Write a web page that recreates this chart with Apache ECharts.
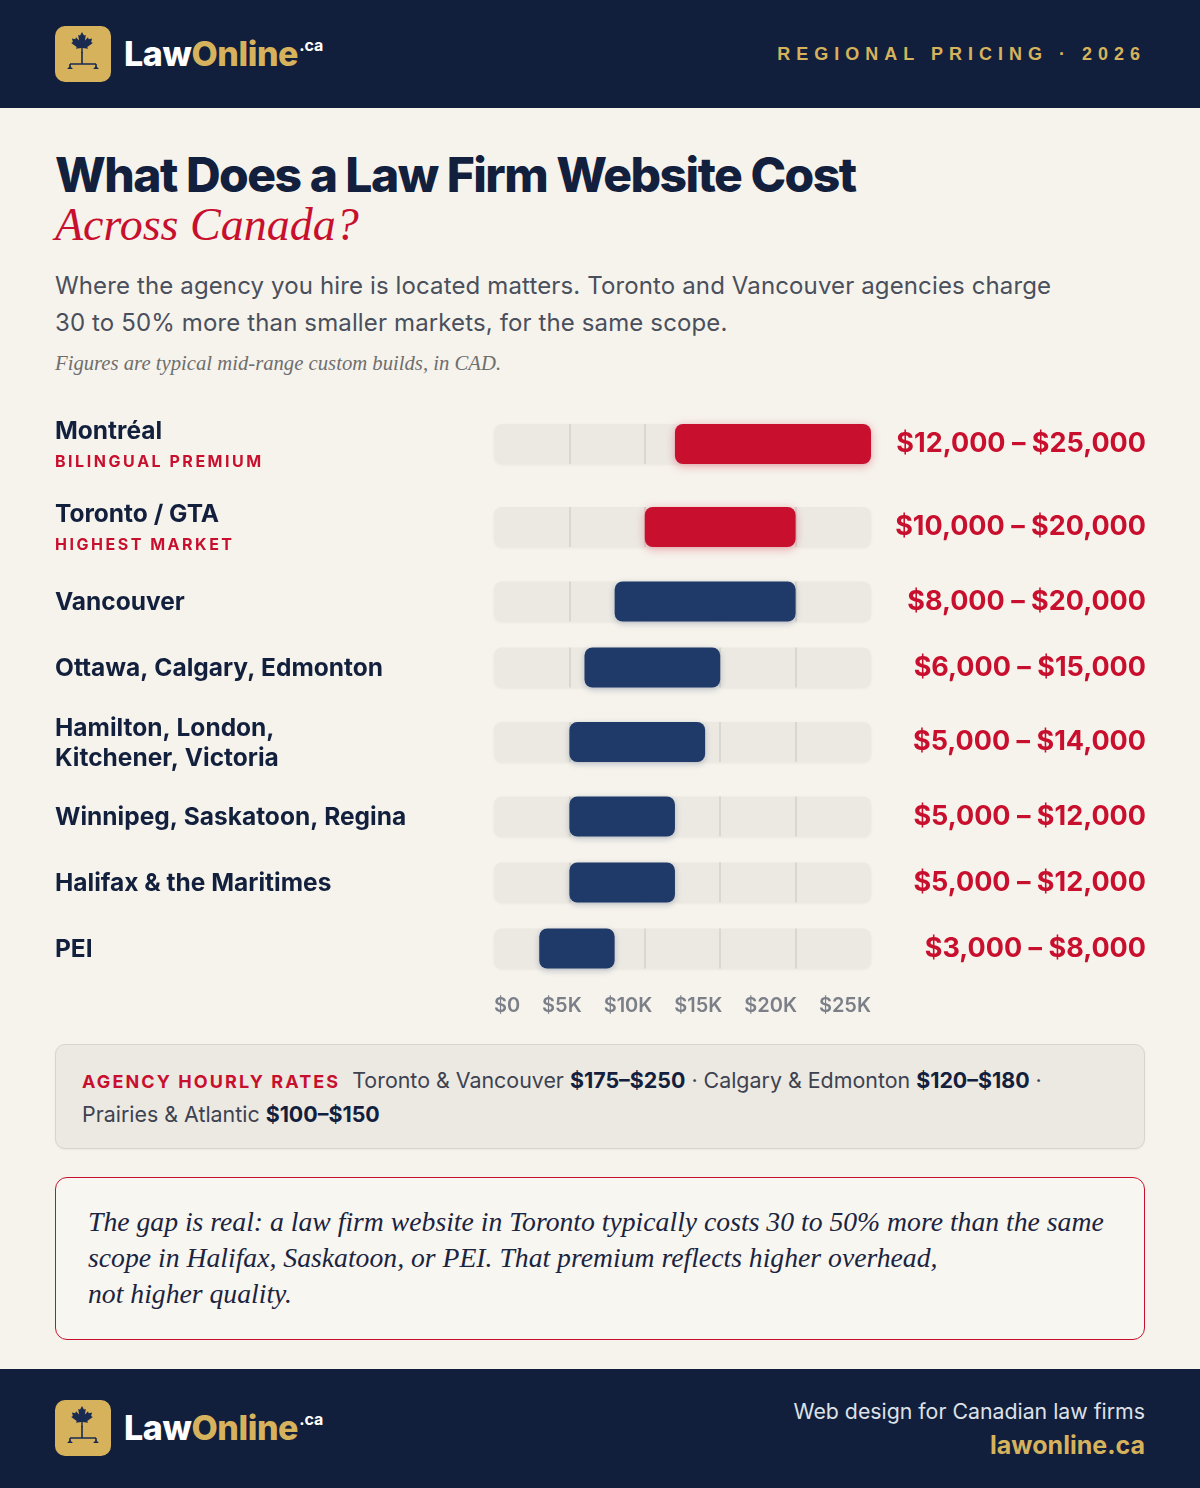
<!DOCTYPE html>
<html><head><meta charset="utf-8">
<script src="https://cdn.jsdelivr.net/npm/echarts@6/dist/echarts.min.js"></script>
<style>
html,body{margin:0;padding:0;}
body{width:1200px;height:1488px;background:#F6F3EC;position:relative;overflow:hidden;font-family:Inter,"Noto Sans",sans-serif;color:#13203D;}
.abs{position:absolute;white-space:nowrap;}
.band{position:absolute;left:0;width:1200px;background:#121F3C;}
.logo-txt{font-family:Inter;font-weight:800;font-size:34px;letter-spacing:-0.4px;line-height:40px;}
.logo-txt .l{color:#fff}.logo-txt .o{color:#D6B25C}
.logo-txt sup{font-size:16px;color:#fff;font-weight:700;letter-spacing:0;vertical-align:0;position:relative;top:-15px;margin-left:1px;}
#title{left:55px;top:148px;font-weight:800;font-size:48px;line-height:54px;letter-spacing:-1.5px;color:#13203D;}
#sub{left:55px;top:198px;font-family:"Liberation Serif",serif;font-style:italic;font-size:46px;line-height:54px;color:#C8102E;}
#lead{left:55px;top:267px;font-size:24px;line-height:37px;letter-spacing:0.13px;color:#4A4F5C;}
#note{left:55px;top:350px;font-family:"Liberation Serif",serif;font-style:italic;font-size:20.7px;line-height:26px;color:#6E6E6E;}
#chart{position:absolute;left:0;top:400px;width:1200px;height:640px;}
#rates{position:absolute;left:55px;top:1044px;width:1088px;height:103px;background:#ECE9E3;border:1px solid #D9D5CD;border-radius:10px;box-shadow:0 1px 2px rgba(0,0,0,0.05);}
#rates .t{position:absolute;left:26px;top:19px;font-size:21.4px;line-height:32px;color:#3D4250;white-space:nowrap;}
#rates .k{color:#C8102E;font-weight:700;font-size:18px;letter-spacing:2.1px;margin-right:12px;}
#rates b{color:#13203D;font-weight:700;}
#quote{position:absolute;left:55px;top:1177px;width:1088px;height:161px;border:1.5px solid #C8102E;border-radius:12px;background:#F8F6F1;}
#quote .t{position:absolute;left:32px;top:26px;font-family:"Liberation Serif",serif;font-style:italic;font-size:27.7px;line-height:36px;color:#1B2440;white-space:nowrap;}
</style></head>
<body>
<div class="band" style="top:0;height:108px;"></div>
<div class="band" style="top:1369px;height:119px;"></div>

<svg class="abs" style="left:55px;top:26px" width="56" height="56" viewBox="0 0 56 56">
 <rect width="56" height="56" rx="10" fill="#D6B25C"/>
 <g transform="translate(15,6) scale(0.24)" fill="#1A2B52">
  <polygon points="50,0 58,15 66,12 62,35 75,22 78,30 92,27 88,42 95,46 72,62 75,70 53,67 53,88 47,88 47,67 25,70 28,62 5,46 12,42 8,27 22,30 25,22 38,35 34,12 42,15"/>
 </g>
 <path d="M27 26 V38 M15 38 H41 M15 38 V41 M41 38 V41" stroke="#1A2B52" stroke-width="1.6" fill="none"/>
 <path d="M12 43 L15 40 L18 43 Z M38 43 L41 40 L44 43 Z" fill="#1A2B52"/>
</svg>
<div class="abs logo-txt" style="left:124px;top:34px"><span class="l">Law</span><span class="o">Online</span><sup>.ca</sup></div>
<div class="abs" style="right:55px;top:42px;font-family:'Liberation Sans';font-weight:700;font-size:18px;line-height:24px;letter-spacing:6px;margin-right:-1px;color:#D6B25C;">REGIONAL PRICING · 2026</div>

<div id="title" class="abs">What Does a Law Firm Website Cost</div>
<div id="sub" class="abs">Across Canada?</div>
<div id="lead" class="abs">Where the agency you hire is located matters. Toronto and Vancouver agencies charge<br>30 to 50% more than smaller markets, for the same scope.</div>
<div id="note" class="abs">Figures are typical mid-range custom builds, in CAD.</div>

<div id="chart"></div>

<div id="rates"><div class="t"><span class="k">AGENCY HOURLY RATES</span>Toronto &amp; Vancouver <b>$175–$250</b> · Calgary &amp; Edmonton <b>$120–$180</b> ·<br>Prairies &amp; Atlantic <b>$100–$150</b></div></div>

<div id="quote"><div class="t">The gap is real: a law firm website in Toronto typically costs 30 to 50% more than the same<br>scope in Halifax, Saskatoon, or PEI. That premium reflects higher overhead,<br>not higher quality.</div></div>

<svg class="abs" style="left:55px;top:1400px" width="56" height="56" viewBox="0 0 56 56">
 <rect width="56" height="56" rx="10" fill="#D6B25C"/>
 <g transform="translate(15,6) scale(0.24)" fill="#1A2B52">
  <polygon points="50,0 58,15 66,12 62,35 75,22 78,30 92,27 88,42 95,46 72,62 75,70 53,67 53,88 47,88 47,67 25,70 28,62 5,46 12,42 8,27 22,30 25,22 38,35 34,12 42,15"/>
 </g>
 <path d="M27 26 V38 M15 38 H41 M15 38 V41 M41 38 V41" stroke="#1A2B52" stroke-width="1.6" fill="none"/>
 <path d="M12 43 L15 40 L18 43 Z M38 43 L41 40 L44 43 Z" fill="#1A2B52"/>
</svg>
<div class="abs logo-txt" style="left:124px;top:1408px"><span class="l">Law</span><span class="o">Online</span><sup>.ca</sup></div>
<div class="abs" style="right:55px;top:1397px;font-size:21.3px;line-height:28px;color:#DDE1E8;">Web design for Canadian law firms</div>
<div class="abs" style="right:55px;top:1429px;font-size:25px;line-height:32px;font-weight:700;color:#D6B25C;">lawonline.ca</div>

<script>
// ---- data ----
const regions = ['Montréal','Toronto / GTA','Vancouver','Ottawa, Calgary, Edmonton','Hamilton, London,\nKitchener, Victoria','Winnipeg, Saskatoon, Regina','Halifax & the Maritimes','PEI'];
const tags = ['BILINGUAL PREMIUM','HIGHEST MARKET','','','','','',''];
const lowCost = [12000,10000,8000,6000,5000,5000,5000,3000];
const highCost = [25000,20000,20000,15000,14000,12000,12000,8000];
const premium = [true,true,false,false,false,false,false,false];
const tickLabels = ['$0','$5K','$10K','$15K','$20K','$25K'];
const axisMax = 25000, axisStep = 5000;

// ---- style / layout ----
const RED='#C8102E', NAVY='#1F3A68', TEXT='#13203D', TRACK='#ECE9E3';
const LEFT=494, WIDTH=377, TRACK_H=40, GAP=26;
const fmt = v => '$' + v.toLocaleString('en-US');
const spaced = s => s.split('').join('\u200A\u200A');

const chart = echarts.init(document.getElementById('chart'), null, {renderer:'canvas'});
const grids=[], xAxes=[], yAxes=[], series=[];
let y = 15.5;
regions.forEach((name,i)=>{
  const twoLine = !!tags[i] || name.includes('\n');
  const rowH = twoLine ? 57 : 40;
  const top = y + (rowH - TRACK_H)/2;
  y += rowH + GAP;
  const last = i === regions.length-1;
  grids.push({left:LEFT, width:WIDTH, top:top, height:TRACK_H});
  xAxes.push({type:'value', gridIndex:i, min:0, max:axisMax, interval:axisStep, z:3,
    axisLine:{show:false}, axisTick:{show:false},
    splitLine:{show:true, lineStyle:{color:['rgba(0,0,0,0)','#D5D1C9','#D5D1C9','#D5D1C9','#D5D1C9','rgba(0,0,0,0)'], width:1.5}},
    axisLabel:{show:last}});
  let label;
  if (tags[i]) label = '{n|'+name+'}\n{s|'+spaced(tags[i])+'}';
  else label = name.split('\n').map(l=>'{m|'+l+'}').join('\n');
  yAxes.push({type:'category', gridIndex:i, data:[label], position:'left',
    axisLine:{show:false}, axisTick:{show:false}, splitLine:{show:false},
    axisLabel:{margin:LEFT-55, align:'left', verticalAlign:'middle', padding:[3,0,0,0],
      rich:{
        n:{fontFamily:'Inter', fontWeight:700, fontSize:24.5, color:TEXT, lineHeight:34},
        s:{fontFamily:'Inter', fontWeight:700, fontSize:16, color:RED, lineHeight:28},
        m:{fontFamily:'Inter', fontWeight:700, fontSize:24.5, color:TEXT, lineHeight:30}
      }}});
  yAxes.push({type:'category', gridIndex:i, data:[fmt(lowCost[i])+' – '+fmt(highCost[i])], position:'right',
    axisLine:{show:false}, axisTick:{show:false}, splitLine:{show:false},
    axisLabel:{margin:275, align:'right', verticalAlign:'middle', padding:[8,0,0,0], fontFamily:'Inter', fontWeight:700, fontSize:27, color:RED}});
  const yi = i*2;
  series.push({type:'bar', xAxisIndex:i, yAxisIndex:yi, data:[axisMax], barWidth:TRACK_H, barGap:'-100%', z:1, silent:true,
    itemStyle:{color:TRACK, borderRadius:8, shadowColor:'rgba(0,0,0,0.06)', shadowBlur:3, shadowOffsetY:1}});
  series.push({type:'bar', xAxisIndex:i, yAxisIndex:yi, stack:'r'+i, data:[lowCost[i]], barWidth:TRACK_H, barGap:'-100%', z:5, silent:true,
    itemStyle:{color:'rgba(0,0,0,0)'}});
  series.push({type:'bar', xAxisIndex:i, yAxisIndex:yi, stack:'r'+i, data:[highCost[i]-lowCost[i]], barWidth:TRACK_H, barGap:'-100%', z:5, silent:true,
    itemStyle:{color: premium[i]?RED:NAVY, borderRadius:8,
      shadowColor: premium[i]?'rgba(200,16,46,0.35)':'rgba(31,58,104,0.28)', shadowBlur: premium[i]?10:6, shadowOffsetY:2}});
});

// tick labels laid out edge-to-edge (space-between) under the track
const ctx = document.createElement('canvas').getContext('2d');
ctx.font = '600 20px Inter';
const widths = tickLabels.map(t=>ctx.measureText(t).width);
const gapW = (WIDTH - widths.reduce((a,b)=>a+b,0)) / (tickLabels.length-1);
const rich = {};
let x = 0;
tickLabels.forEach((t,k)=>{
  const c = x + widths[k]/2;
  const tick = k*WIDTH/(tickLabels.length-1);
  const d = c - tick;
  rich['t'+k] = {fontFamily:'Inter', fontWeight:600, fontSize:20, color:'#7B7F88',
    padding: d<0 ? [0,-2*d,0,0] : [0,0,0,2*d]};
  x += widths[k] + gapW;
});
const lastX = xAxes[xAxes.length-1];
lastX.axisLabel = {show:true, margin:27, align:'center',
  formatter:(v)=>{const k=Math.round(v/axisStep); return '{t'+k+'|'+tickLabels[k]+'}';}, rich:rich};

chart.setOption({animation:false, grid:grids, xAxis:xAxes, yAxis:yAxes, series:series});
</script>
</body></html>
